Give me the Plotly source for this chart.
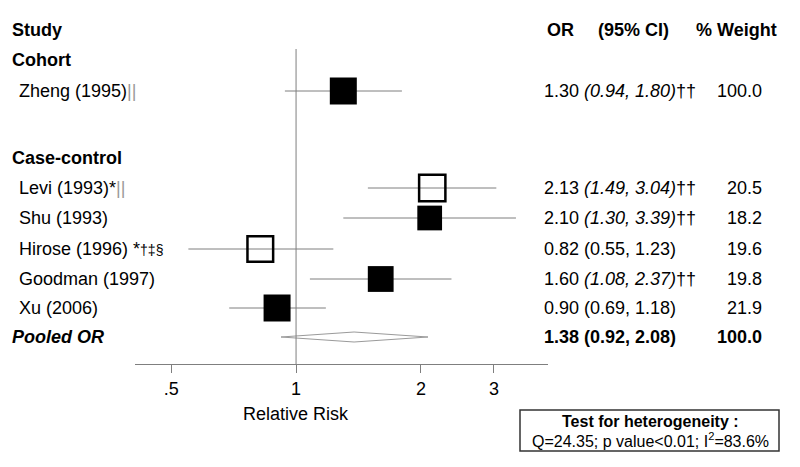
#!/usr/bin/env python3
#coding:utf-8

import math
import plotly.graph_objects as go

# data
studies = ["Zheng (1995)", "Levi (1993)", "Shu (1993)", "Hirose (1996)", "Goodman (1997)", "Xu (2006)"]
marks = ["||", "*||", "", " *†‡§", "", ""]
design = ["Cohort", "Case-control", "Case-control", "Case-control", "Case-control", "Case-control"]
odds = [1.30, 2.13, 2.10, 0.82, 1.60, 0.90]
ci_low = [0.94, 1.49, 1.30, 0.55, 1.08, 0.69]
ci_high = [1.80, 3.04, 3.39, 1.23, 2.37, 1.18]
weights = [100.0, 20.5, 18.2, 19.6, 19.8, 21.9]
flagged = [True, True, True, False, True, False]  # footnote ††, CI shown in italics
hollow = [False, True, False, True, False, False]

pooled_or = 1.38
pooled_low = 0.92
pooled_high = 2.08
pooled_weight = 100.0

het_q = 24.35
het_p = "<0.01"
het_i2 = 83.6

tick_vals = [0.5, 1, 2, 3]
tick_text = [".5", "1", "2", "3"]

# layout (pixel rows, page is 800x467)
W, H = 800, 467
ROW_Y = [91, 188, 218, 249, 279, 308]
HEAD_Y = {"Study": 30, "Cohort": 60, "Case-control": 158}
POOLED_Y = 337
PLOT_TOP, PLOT_BOTTOM = 49, 364
FONT = "Liberation Sans, Arial, sans-serif"
GREY = "#7f7f7f"


def px(x):
    return x / W


def py(y):
    return 1 - y / H


def txt(fig, x, y, text, anchor="left", size=18):
    """text placed at pixel position (x, y) of the page"""
    fig.add_annotation(x=px(x), y=py(y), xref="paper", yref="paper", text=text, showarrow=False,
                       xanchor=anchor, yanchor="middle", font=dict(family=FONT, size=size, color="black"))


def study_label(name, mark):
    """name with footnote marks, the || drawn lighter"""
    if mark.endswith("||"):
        return name + mark[:-2] + "<span style='color:#9a9a9a'>||</span>"
    if mark.strip():
        return name + " *<span style='font-size:14px'>" + mark.strip()[1:] + "</span>"
    return name


def or_label(o, lo, hi, flag):
    ci = f"({lo:.2f}, {hi:.2f})"
    if flag:
        return f"{o:.2f} <i>{ci}</i>††"
    return f"{o:.2f} {ci}"


def main():
    fig = go.Figure()

    # confidence intervals
    for o, lo, hi, y in zip(odds, ci_low, ci_high, ROW_Y):
        fig.add_trace(go.Scatter(x=[lo, hi], y=[y, y], mode="lines",
                                 line=dict(color=GREY, width=1), hoverinfo="skip"))

    # boxes, size by sqrt of weight
    sizes = [min(5.8 * math.sqrt(w), 27) for w in weights]
    for o, y, s, h in zip(odds, ROW_Y, sizes, hollow):
        if h:
            marker = dict(symbol="square-open", size=s, color="black", line=dict(width=2.5, color="black"))
        else:
            marker = dict(symbol="square", size=s, color="black")
        fig.add_trace(go.Scatter(x=[o], y=[y], mode="markers", marker=marker))

    # pooled diamond
    fig.add_trace(go.Scatter(x=[pooled_low, pooled_or, pooled_high, pooled_or, pooled_low],
                             y=[POOLED_Y, POOLED_Y - 5, POOLED_Y, POOLED_Y + 5, POOLED_Y],
                             mode="lines", fill="toself", fillcolor="white",
                             line=dict(color="#9a9a9a", width=1)))

    # line of no effect
    fig.add_shape(type="line", xref="x", yref="y domain", x0=1, x1=1, y0=0, y1=1,
                  line=dict(color=GREY, width=1))

    # left text column
    txt(fig, 10, HEAD_Y["Study"], "<b>Study</b>")
    txt(fig, 10, HEAD_Y["Cohort"], "<b>Cohort</b>")
    txt(fig, 10, HEAD_Y["Case-control"], "<b>Case-control</b>")
    for name, mark, y in zip(studies, marks, ROW_Y):
        txt(fig, 17, y, study_label(name, mark))
    txt(fig, 10, POOLED_Y, "<b><i>Pooled OR</i></b>")

    # right text columns
    txt(fig, 545, HEAD_Y["Study"], "<b>OR</b>")
    txt(fig, 596, HEAD_Y["Study"], "<b>(95% CI)</b>")
    txt(fig, 779, HEAD_Y["Study"], "<b>% Weight</b>", anchor="right")
    for o, lo, hi, f, w, y in zip(odds, ci_low, ci_high, flagged, weights, ROW_Y):
        txt(fig, 542, y, or_label(o, lo, hi, f))
        txt(fig, 764, y, f"{w:.1f}", anchor="right")
    txt(fig, 542, POOLED_Y, f"<b>{pooled_or:.2f} ({pooled_low:.2f}, {pooled_high:.2f})</b>")
    txt(fig, 764, POOLED_Y, f"<b>{pooled_weight:.1f}</b>", anchor="right")

    # axis title
    txt(fig, 296, 414, "Relative Risk", anchor="center")

    # heterogeneity box
    fig.add_shape(type="rect", xref="paper", yref="paper", x0=px(520), x1=px(779),
                  y0=py(451), y1=py(410), line=dict(color="#333333", width=1.5))
    txt(fig, 650, 421, "<b>Test for heterogeneity :</b>", anchor="center", size=16)
    txt(fig, 650, 440, f"Q={het_q:.2f}; p value{het_p}; I<sup>2</sup>={het_i2:.1f}%", anchor="center", size=16)

    lo_lim, hi_lim = 0.409, 4.05
    fig.update_layout(
        width=W, height=H, margin=dict(l=0, r=0, t=0, b=0),
        paper_bgcolor="white", plot_bgcolor="white", showlegend=False, hovermode=False,
        font=dict(family=FONT, size=18, color="black"),
        xaxis=dict(type="log", range=[math.log10(lo_lim), math.log10(hi_lim)],
                   domain=[px(135), px(548)], showline=True, linecolor=GREY, linewidth=1,
                   ticks="outside", ticklen=8, tickcolor=GREY, tickwidth=1,
                   tickvals=tick_vals, ticktext=tick_text, showgrid=False, zeroline=False,
                   tickfont=dict(family=FONT, size=18, color="black")),
        yaxis=dict(range=[PLOT_BOTTOM, PLOT_TOP], domain=[py(PLOT_BOTTOM), py(PLOT_TOP)],
                   visible=False, showgrid=False, zeroline=False),
    )
    # the page's default body margin would shift the figure by 8px
    fig.write_html("out.html", config={"displayModeBar": False},
                   post_script="document.body.style.margin='0';")


if __name__ == "__main__":
    main()
